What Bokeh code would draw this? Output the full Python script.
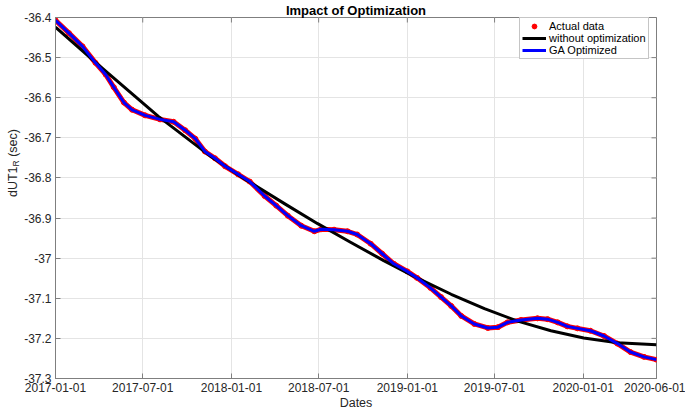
import numpy as np
from bokeh.plotting import figure
from bokeh.layouts import row
from bokeh.models import (FixedTicker, DatetimeTickFormatter, Legend, LegendItem,
                          Label, Range1d, ColumnDataSource)
from bokeh.embed import file_html
from bokeh.resources import INLINE

# ---------------- data ----------------
actual_dates = [
    "2017-01-01", "2017-01-29", "2017-02-26", "2017-03-25", "2017-04-15", "2017-05-02",
    "2017-05-23", "2017-06-09", "2017-07-06", "2017-08-06", "2017-09-03", "2017-09-27",
    "2017-10-18", "2017-11-07", "2017-11-28", "2017-12-19", "2018-01-15", "2018-02-08",
    "2018-03-11", "2018-04-04", "2018-04-28", "2018-05-26", "2018-06-22", "2018-07-06",
    "2018-08-02", "2018-08-30", "2018-09-19", "2018-10-17", "2018-11-10", "2018-12-04",
    "2019-01-01", "2019-01-21", "2019-02-18", "2019-03-12", "2019-04-02", "2019-04-23",
    "2019-05-20", "2019-06-17", "2019-07-08", "2019-07-28", "2019-08-25", "2019-09-28",
    "2019-10-19", "2019-11-09", "2019-11-29", "2019-12-20", "2020-01-16", "2020-02-13",
    "2020-03-12", "2020-04-08", "2020-05-06", "2020-06-01",
]
actual_values = [
    -36.407, -36.439, -36.472, -36.513, -36.542, -36.574,
    -36.612, -36.630, -36.644, -36.654, -36.660, -36.681,
    -36.702, -36.734, -36.751, -36.771, -36.791, -36.809,
    -36.845, -36.869, -36.894, -36.919, -36.933, -36.928,
    -36.929, -36.933, -36.941, -36.964, -36.989, -37.014,
    -37.033, -37.049, -37.074, -37.097, -37.119, -37.144,
    -37.164, -37.174, -37.172, -37.160, -37.154, -37.150,
    -37.152, -37.160, -37.170, -37.175, -37.181, -37.194,
    -37.213, -37.234, -37.246, -37.253,
]
ga_dates = list(actual_dates)
ga_values = list(actual_values)

fit_dates = [
    "2017-01-01", "2017-03-25", "2017-08-03", "2017-11-21", "2018-01-29", "2018-04-21",
    "2018-06-29", "2018-09-06", "2018-11-13", "2019-01-21", "2019-04-02", "2019-06-10",
    "2019-08-18", "2019-10-26", "2020-01-02", "2020-03-12", "2020-06-01",
]
fit_values = [
    -36.424, -36.512, -36.647, -36.748, -36.803, -36.864,
    -36.914, -36.961, -37.006, -37.049, -37.090, -37.126,
    -37.157, -37.181, -37.199, -37.211, -37.216,
]

x_tick_labels = ["2017-01-01", "2017-07-01", "2018-01-01", "2018-07-01",
                 "2019-01-01", "2019-07-01", "2020-01-01", "2020-06-01"]
y_ticks = [-36.4, -36.5, -36.6, -36.7, -36.8, -36.9, -37.0, -37.1, -37.2, -37.3]
y_tick_labels = ["-36.4", "-36.5", "-36.6", "-36.7", "-36.8", "-36.9",
                 "-37", "-37.1", "-37.2", "-37.3"]

title_text = "Impact of Optimization"
x_label = "Dates"
y_label_main = "dUT1"
y_label_sub = "R"
y_label_unit = "(sec)"
legend_labels = ["Actual data", "without optimization", "GA Optimized"]


def ms(s):
    return float(np.datetime64(s, "ms").astype("int64"))


FONT = "Liberation Sans"
TXT = "#262626"
AX = "#7f7f7f"
STRIP = 21  # width of the strip that carries the vertical axis title

x_ticks = [ms(s) for s in x_tick_labels]

p = figure(width=685 - STRIP, height=412, x_axis_type="datetime",
           output_backend="svg", toolbar_location=None,
           x_range=Range1d(x_ticks[0], x_ticks[-1]),
           y_range=Range1d(y_ticks[-1], y_ticks[0]),
           min_border_left=53 - STRIP, min_border_right=29,
           min_border_top=0, min_border_bottom=33)
p.background_fill_color = "white"
p.border_fill_color = "white"
p.outline_line_color = AX

p.title.text = title_text
p.title.align = "center"
p.title.text_font = FONT
p.title.text_font_size = "13px"
p.title.text_font_style = "bold"
p.title.text_color = "#000000"
p.title.standoff = 0
p.title.offset = 0

src_a = ColumnDataSource(dict(x=np.array(actual_dates, dtype="datetime64[ms]"), y=actual_values))
src_g = ColumnDataSource(dict(x=np.array(ga_dates, dtype="datetime64[ms]"), y=ga_values))
src_f = ColumnDataSource(dict(x=np.array(fit_dates, dtype="datetime64[ms]"), y=fit_values))

p.line("x", "y", source=src_a, line_color="#ff0000", line_width=5, line_join="round")
r_act = p.scatter("x", "y", source=src_a, marker="circle", size=5,
                  fill_color="#ff0000", line_color="#ff0000")
r_fit = p.line("x", "y", source=src_f, line_color="#000000", line_width=3, line_join="round")
r_ga = p.line("x", "y", source=src_g, line_color="#0000ff", line_width=3, line_join="round")

# inward tick marks on the top and right edges of the box
top_src = ColumnDataSource(dict(x=x_ticks, y=[y_ticks[0]] * len(x_ticks)))
right_src = ColumnDataSource(dict(x=[x_ticks[-1]] * len(y_ticks), y=y_ticks))
p.scatter("x", "y", source=top_src, marker="dash", size=10, angle=np.pi / 2,
          line_color=AX, line_width=1)
p.scatter("x", "y", source=right_src, marker="dash", size=10, angle=0,
          line_color=AX, line_width=1)

fmt = "%Y-%m-%d"
xfmt = DatetimeTickFormatter(days=fmt, months=fmt, years=fmt, hours=fmt,
                             hourmin=fmt, minutes=fmt, minsec=fmt, seconds=fmt,
                             milliseconds=fmt, microseconds=fmt)

xa = p.xaxis[0]
xa.ticker = FixedTicker(ticks=x_ticks)
xa.formatter = xfmt
ya = p.yaxis[0]
ya.ticker = FixedTicker(ticks=y_ticks)
ya.major_label_overrides = {t: l for t, l in zip(y_ticks, y_tick_labels)}

for ax in [xa, ya]:
    ax.axis_line_color = AX
    ax.major_tick_line_color = AX
    ax.major_tick_in = 5
    ax.major_tick_out = 0
    ax.minor_tick_line_color = None
    ax.major_label_text_font = FONT
    ax.major_label_text_font_size = "12px"
    ax.major_label_text_color = TXT
    ax.major_label_standoff = 4
xa.axis_label = x_label
xa.axis_label_text_font = FONT
xa.axis_label_text_font_size = "12.5px"
xa.axis_label_text_font_style = "normal"
xa.axis_label_text_color = TXT
xa.axis_label_standoff = 1

p.xgrid.ticker = FixedTicker(ticks=x_ticks)
p.ygrid.ticker = FixedTicker(ticks=y_ticks)
p.grid.grid_line_color = "#e4e4e4"
p.grid.grid_line_width = 1

legend = Legend(items=[LegendItem(label=legend_labels[0], renderers=[r_act]),
                       LegendItem(label=legend_labels[1], renderers=[r_fit]),
                       LegendItem(label=legend_labels[2], renderers=[r_ga])],
                location=(464, 319))
legend.margin = 0
legend.padding = 2
legend.spacing = 0
legend.glyph_width = 24
legend.glyph_height = 12
legend.label_height = 12
legend.label_standoff = 3
legend.label_text_font = FONT
legend.label_text_font_size = "11px"
legend.label_text_color = "#000000"
legend.border_line_color = "#8c8c8c"
legend.border_line_width = 1
legend.background_fill_color = "white"
legend.background_fill_alpha = 1
p.add_layout(legend)

# narrow strip on the left carrying the vertical axis title "dUT1_R (sec)"
s = figure(width=STRIP, height=412, output_backend="svg", toolbar_location=None,
           title=None, x_axis_location=None, y_axis_location=None,
           x_range=Range1d(0, 1), y_range=Range1d(0, 1),
           min_border=0, min_border_left=0, min_border_right=0,
           min_border_top=0, min_border_bottom=0)
s.outline_line_color = None
s.background_fill_color = "white"
s.border_fill_color = "white"
s.grid.visible = False
yc = 412 - 196.5  # vertical centre of the plot box, measured from the bottom
lab_kw = dict(x_units="screen", y_units="screen", angle=np.pi / 2, text_font=FONT,
              text_color=TXT, text_align="left", text_baseline="alphabetic")
s.add_layout(Label(x=12, y=yc - 34, text=y_label_main, text_font_size="12.5px", **lab_kw))
s.add_layout(Label(x=15, y=yc - 3.4, text=y_label_sub, text_font_size="8.5px", **lab_kw))
s.add_layout(Label(x=12, y=yc + 6.2, text=y_label_unit, text_font_size="12.5px", **lab_kw))

layout = row(s, p, spacing=0)
open("out.html", "w").write(file_html(layout, INLINE))
